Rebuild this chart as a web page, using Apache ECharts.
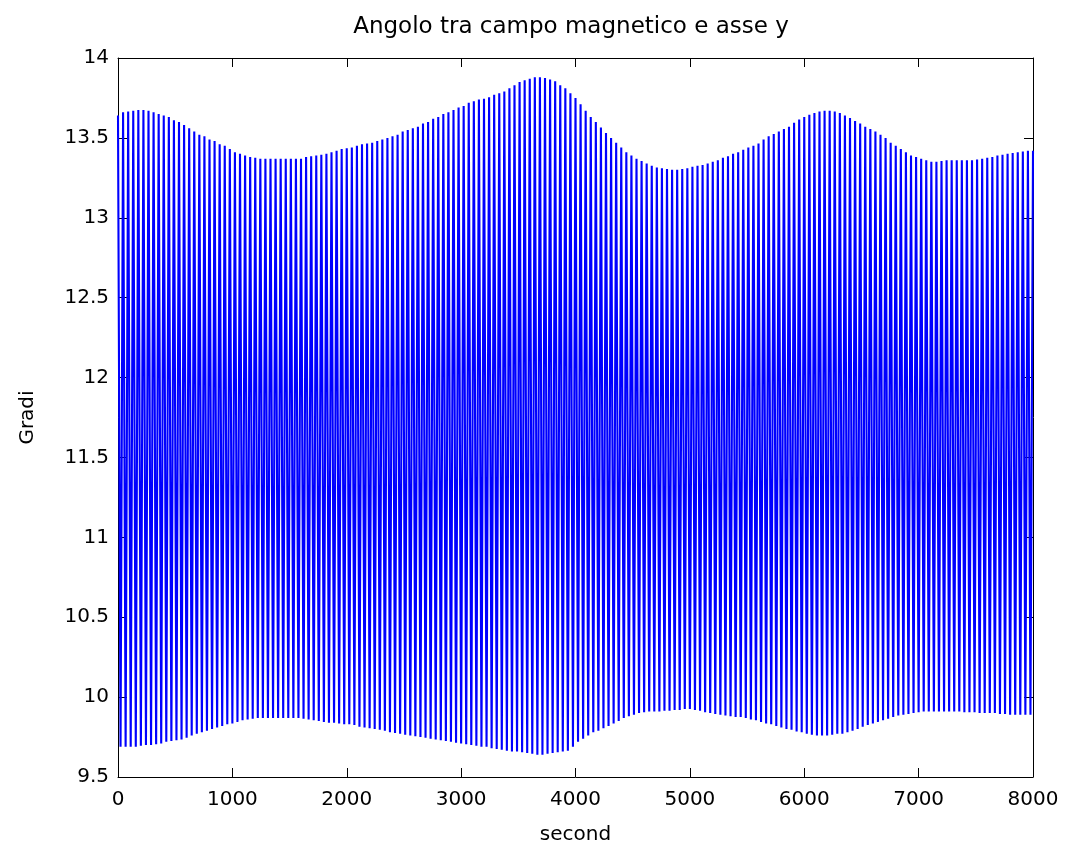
<!DOCTYPE html>
<html><head><meta charset="utf-8">
<script src="https://cdn.jsdelivr.net/npm/echarts@6/dist/echarts.min.js"></script>
<style>html,body{margin:0;padding:0;background:#fff}#c{width:1066px;height:850px}</style>
</head><body><div id="c"></div>
<script>
const chartTitle = 'Angolo tra campo magnetico e asse y';
const xName = 'second';
const yName = 'Gradi';
const xRange = [0, 8000];
const yRange = [9.5, 14];
const xStep = 1000;
const yStep = 0.5;
// seconds between successive maxima of the oscillation
const cycle = 8000 / 180;
// maxima (one per cycle, starting at t = 0)
const peaks = [
13.64,13.66,13.665,13.67,13.675,13.675,13.67,13.66,13.65,13.64,
13.63,13.61,13.60,13.58,13.56,13.54,13.52,13.51,13.49,13.48,
13.46,13.45,13.43,13.41,13.40,13.39,13.38,13.375,13.37,13.37,
13.37,13.37,13.37,13.37,13.37,13.37,13.37,13.38,13.385,13.39,
13.395,13.40,13.41,13.42,13.43,13.435,13.44,13.45,13.46,13.465,
13.47,13.48,13.49,13.50,13.51,13.52,13.54,13.55,13.56,13.57,
13.59,13.60,13.62,13.63,13.65,13.66,13.675,13.69,13.70,13.72,
13.73,13.74,13.745,13.755,13.77,13.78,13.79,13.81,13.83,13.85,
13.86,13.87,13.88,13.88,13.875,13.865,13.855,13.83,13.81,13.78,
13.75,13.71,13.67,13.63,13.60,13.565,13.53,13.50,13.47,13.44,
13.41,13.39,13.37,13.355,13.34,13.325,13.315,13.31,13.305,13.30,
13.30,13.305,13.31,13.32,13.325,13.33,13.34,13.35,13.36,13.375,
13.385,13.40,13.41,13.425,13.44,13.45,13.465,13.49,13.51,13.525,
13.54,13.555,13.57,13.595,13.615,13.63,13.645,13.655,13.665,13.67,
13.67,13.665,13.655,13.64,13.625,13.605,13.59,13.57,13.555,13.54,
13.52,13.50,13.47,13.45,13.43,13.41,13.39,13.38,13.37,13.36,
13.35,13.35,13.355,13.36,13.36,13.36,13.36,13.36,13.36,13.365,
13.37,13.375,13.38,13.39,13.395,13.40,13.405,13.41,13.415,13.42,
13.42
];
// minima (half a cycle after each maximum)
const troughs = [
9.69,9.69,9.69,9.69,9.695,9.70,9.70,9.705,9.71,9.72,
9.725,9.73,9.735,9.745,9.76,9.77,9.78,9.79,9.80,9.81,
9.82,9.83,9.835,9.845,9.855,9.86,9.865,9.87,9.87,9.87,
9.87,9.87,9.87,9.87,9.87,9.87,9.865,9.86,9.855,9.85,
9.845,9.84,9.84,9.835,9.83,9.83,9.825,9.815,9.81,9.805,
9.80,9.795,9.79,9.78,9.775,9.77,9.765,9.76,9.755,9.75,
9.745,9.74,9.735,9.73,9.725,9.72,9.715,9.71,9.705,9.70,
9.695,9.69,9.69,9.68,9.675,9.67,9.665,9.66,9.66,9.655,
9.65,9.645,9.64,9.64,9.645,9.65,9.655,9.66,9.665,9.69,
9.72,9.74,9.76,9.78,9.79,9.805,9.82,9.835,9.85,9.87,
9.88,9.89,9.90,9.905,9.91,9.91,9.91,9.915,9.915,9.92,
9.92,9.925,9.925,9.92,9.915,9.905,9.90,9.895,9.89,9.885,
9.88,9.875,9.875,9.87,9.86,9.855,9.845,9.835,9.83,9.82,
9.81,9.80,9.795,9.785,9.78,9.77,9.765,9.76,9.76,9.76,
9.765,9.77,9.77,9.78,9.79,9.80,9.815,9.825,9.835,9.845,
9.855,9.865,9.875,9.885,9.89,9.895,9.90,9.905,9.91,9.91,
9.91,9.91,9.91,9.91,9.91,9.91,9.905,9.905,9.905,9.90,
9.90,9.90,9.90,9.895,9.895,9.89,9.89,9.89,9.89,9.89
];

const seriesData = [];
for (let i = 0; i < peaks.length; i++) {
  seriesData.push([i * cycle, peaks[i]]);
  if (i < troughs.length) seriesData.push([(i + 0.5) * cycle, troughs[i]]);
}

const font = 'DejaVu Sans, sans-serif';
const axisLineStyle = { color: '#000', width: 1 };
function xAx(pos, labels) {
  return {
    type: 'value', position: pos, min: xRange[0], max: xRange[1], interval: xStep,
    axisLine: { show: true, onZero: false, lineStyle: axisLineStyle },
    axisTick: { show: true, inside: true, length: 9, lineStyle: axisLineStyle },
    splitLine: { show: false },
    axisLabel: { show: labels, color: '#000', fontSize: 20, fontFamily: font, margin: 13,
                 formatter: v => String(v) },
    name: labels ? xName : '', nameLocation: 'middle', nameGap: 48,
    nameTextStyle: { color: '#000', fontSize: 20, fontFamily: font }
  };
}
function yAx(pos, labels) {
  return {
    type: 'value', position: pos, min: yRange[0], max: yRange[1], interval: yStep,
    axisLine: { show: true, onZero: false, lineStyle: axisLineStyle },
    axisTick: { show: true, inside: true, length: 9, lineStyle: axisLineStyle },
    splitLine: { show: false },
    axisLabel: { show: labels, color: '#000', fontSize: 20, fontFamily: font, margin: 9,
                 formatter: v => String(v) },
    name: labels ? yName : '', nameLocation: 'middle', nameGap: 80, nameRotate: 90,
    nameTextStyle: { color: '#000', fontSize: 20, fontFamily: font }
  };
}

const chart = echarts.init(document.getElementById('c'), null, { renderer: 'canvas' });
chart.setOption({
  backgroundColor: '#fff',
  animation: false,
  title: {
    text: chartTitle, left: 566, top: 11, textAlign: 'center',
    textStyle: { color: '#000', fontSize: 23, fontWeight: 'normal', fontFamily: font }
  },
  grid: { left: 118, right: 33, top: 58, bottom: 72, containLabel: false },
  xAxis: [xAx('bottom', true), xAx('top', false)],
  yAxis: [yAx('left', true), yAx('right', false)],
  series: [{
    type: 'line', data: seriesData, xAxisIndex: 0, yAxisIndex: 0,
    showSymbol: false, symbol: 'none', clip: true,
    lineStyle: { color: '#0000ff', width: 2.1 }
  }]
});
</script></body></html>
